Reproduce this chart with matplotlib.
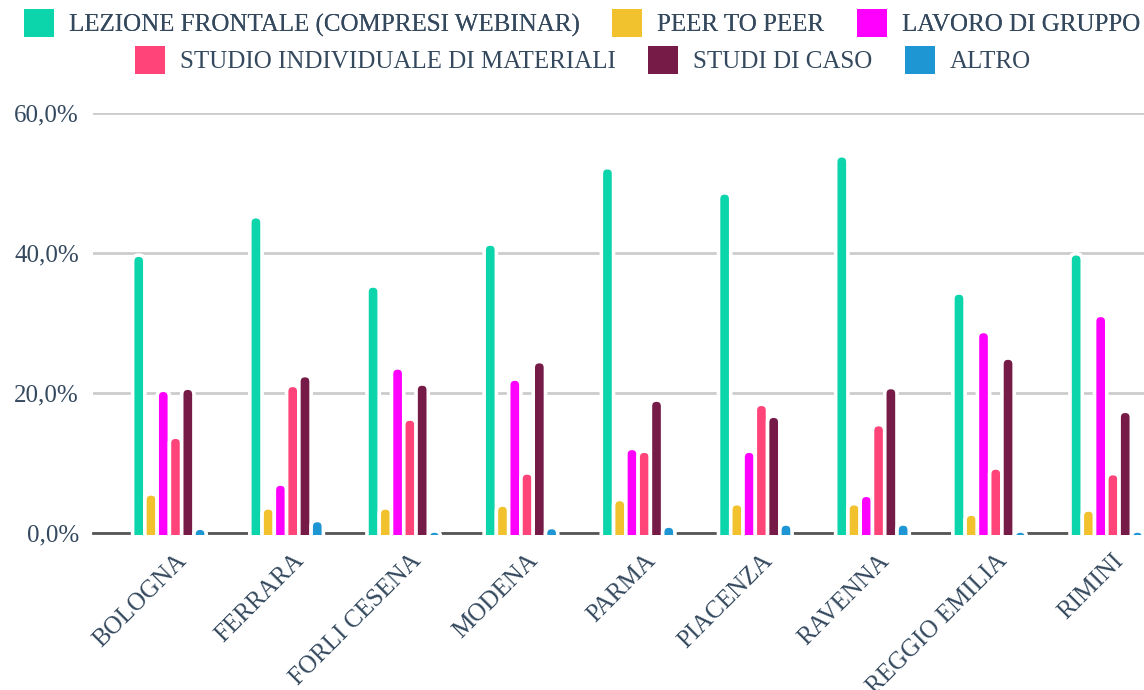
import numpy as np
import matplotlib.pyplot as plt
from matplotlib.patches import FancyBboxPatch, Patch, Rectangle
from matplotlib.ticker import FuncFormatter, MultipleLocator
import matplotlib.transforms as mtransforms

plt.rcParams['font.family'] = ['Liberation Serif', 'DejaVu Serif']

cities = ['BOLOGNA', 'FERRARA', 'FORLI CESENA', 'MODENA', 'PARMA',
          'PIACENZA', 'RAVENNA', 'REGGIO EMILIA', 'RIMINI']

series = ['LEZIONE FRONTALE (COMPRESI WEBINAR)', 'PEER TO PEER', 'LAVORO DI GRUPPO',
          'STUDIO INDIVIDUALE DI MATERIALI', 'STUDI DI CASO', 'ALTRO']

lezione_frontale = [39.5, 45.0, 35.1, 41.1, 52.0, 48.4, 53.7, 34.1, 39.7]
peer_to_peer = [5.4, 3.4, 3.4, 3.8, 4.6, 4.0, 4.0, 2.5, 3.1]
lavoro_gruppo = [20.2, 6.8, 23.4, 21.8, 11.9, 11.5, 5.2, 28.6, 30.9]
studio_individuale = [13.5, 20.9, 16.1, 8.4, 11.5, 18.2, 15.3, 9.1, 8.3]
studi_caso = [20.5, 22.3, 21.1, 24.3, 18.8, 16.5, 20.6, 24.8, 17.2]
altro = [0.5, 1.6, 0.1, 0.6, 0.8, 1.1, 1.1, 0.1, 0.1]

values = [lezione_frontale, peer_to_peer, lavoro_gruppo,
          studio_individuale, studi_caso, altro]
colors = ['#0CD5AC', '#F2C12E', '#FF00FF', '#FF4479', '#761A47', '#1E96D3']
text_color = '#34495E'

fig = plt.figure(figsize=(11.44, 6.9), dpi=100)
ax = fig.add_axes([0.0813, 0.2275, 0.92, 0.6087])

x = np.arange(len(cities))
w = 0.1047
ax.set_xlim(-0.652, 8.33)
ax.set_ylim(0, 60)

# pixel size of data units, used for round-topped bars
px_x = 0.92 * 1144 / (8.33 + 0.652)
px_y = 0.6087 * 690 / 60
r = w / 2
aspect = px_x / px_y
ext = 2.0

# bars may run just below zero so they hide the baseline
clip = Rectangle((-1, -0.3), 20, 70, transform=ax.transData)

for j, (vals, c) in enumerate(zip(values, colors)):
    bars = ax.bar(x + (j - 2.5) * w, vals, width=w, color=c)
    for b in bars:
        b.set_visible(False)
        fb = FancyBboxPatch((b.get_x(), -ext), b.get_width(), b.get_height() + ext + 0.2,
                            boxstyle=f'round,pad=0,rounding_size={r}',
                            mutation_aspect=aspect, facecolor=c,
                            edgecolor='white', linewidth=2.6, zorder=3)
        ax.add_patch(fb)
        fb.set_clip_path(clip)

ax.yaxis.set_major_locator(MultipleLocator(20))
ax.yaxis.set_major_formatter(FuncFormatter(lambda v, p: f'{v:.1f}%'.replace('.', ',')))
ax.grid(axis='y', color='#CCCCCC', linewidth=2.0, zorder=0)
ax.grid(axis='x', visible=False)
ax.set_axisbelow(True)
ax.axhline(0, color='#555555', linewidth=2.0, zorder=1, clip_on=False)
for s in ax.spines.values():
    s.set_visible(False)

ax.tick_params(axis='y', length=0, pad=10, labelsize=18, labelcolor=text_color)
ax.tick_params(axis='x', length=0, pad=12, labelsize=18, labelcolor=text_color)
ax.set_xticks(x)
ax.set_xticklabels(cities, rotation=45, ha='right', va='top', rotation_mode='anchor')
offset = mtransforms.ScaledTranslation(6 / 100, 0, fig.dpi_scale_trans)
for lbl in ax.get_xticklabels():
    lbl.set_transform(lbl.get_transform() + offset)

handles = [Patch(facecolor=c, edgecolor='none') for c in colors]
leg_kw = dict(frameon=False, fontsize=18, handlelength=1.2, handleheight=1.35,
              handletextpad=0.6, columnspacing=1.3, borderpad=0, borderaxespad=0,
              labelcolor=text_color, loc='center', ncol=3)
leg1 = fig.legend(handles[:3], series[:3], bbox_to_anchor=(0.5087, 1 - 23 / 690), **leg_kw)
fig.add_artist(leg1)
fig.legend(handles[3:], series[3:], bbox_to_anchor=(0.5096, 1 - 60 / 690), **leg_kw)

fig.savefig('out.png', dpi=100)
